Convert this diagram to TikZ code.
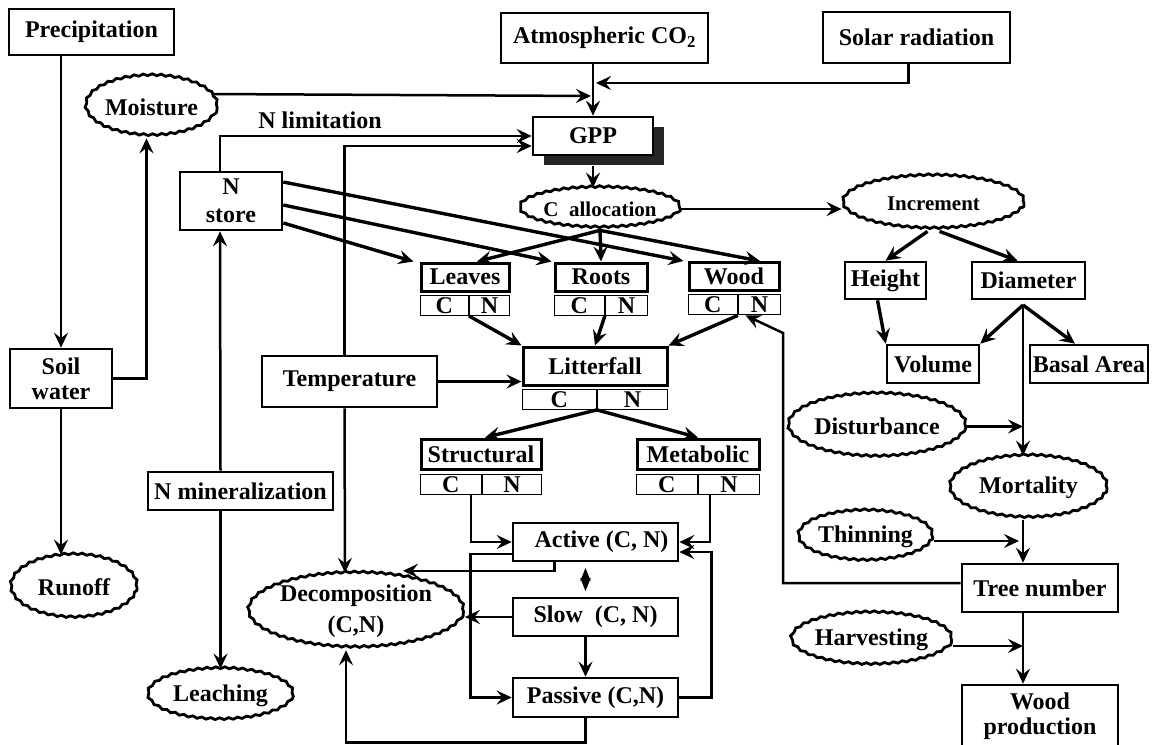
\documentclass[tikz,border=0pt]{standalone}
\usepackage{fontspec}
\setmainfont{Liberation Serif}
\usetikzlibrary{arrows.meta, positioning, shapes.geometric, shadows, decorations.pathmorphing}

\begin{document}
\begin{tikzpicture}[x=1pt, y=-1pt, >={Stealth[length=15pt, width=14pt, inset=5.5pt]},
    line width=2.5pt, font=\fontsize{24}{25}\selectfont\bfseries,
    box/.style={draw, rectangle, line width=2.6pt, inner sep=0pt, align=center},
    pool/.style={draw, rectangle, line width=3pt, inner sep=0pt, minimum height=28pt},
    cell/.style={draw, rectangle, line width=1.4pt, inner sep=0pt, minimum height=20pt},
    wavy/.style={draw, ellipse, line width=2.8pt, inner sep=0pt, align=center,
        decorate, decoration={snake, amplitude=0.9pt, segment length=9pt}},
    small/.style={font=\fontsize{21}{23}\selectfont\bfseries},
    flow/.style={->, line width=3.4pt}]
    \useasboundingbox (0,0) rectangle (1153,744);

    % drivers
    \node[box, minimum width=165pt, minimum height=46pt] (precip) at (91.5,32) {Precipitation};
    \node[box, minimum width=207pt, minimum height=50pt] (co2) at (604.5,38) {Atmospheric CO\textsubscript{2}};
    \node[box, minimum width=187pt, minimum height=51pt] (solar) at (916.5,37.5) {Solar radiation};
    \node[wavy, minimum width=117pt, minimum height=60pt] (moisture) at (151.5,107) {Moisture};
    \node[box, fill=white, minimum width=120pt, minimum height=38pt,
        drop shadow={shadow xshift=11pt, shadow yshift=-10pt, fill=black!85, opacity=1}] (gpp) at (593,136) {GPP};
    \node (nlim) at (320,120) {N limitation};
    \node[box, minimum width=102pt, minimum height=58pt] (nstore) at (231,201) {N\\[3pt]store};
    \node[wavy, small, minimum width=154pt, minimum height=40pt] (calloc) at (600,209) {C\ \ allocation};
    \node[wavy, small, minimum width=181pt, minimum height=53pt] (increment) at (933.5,203.5) {Increment};

    % plant pools
    \node[pool, minimum width=88pt] (leaves) at (465,277) {Leaves};
    \node[cell, minimum width=48pt, anchor=north west] (leavesC) at ([yshift=-2pt]leaves.south west) {C};
    \node[cell, minimum width=40pt, right=0pt of leavesC] (leavesN) {N};
    \node[pool, minimum width=92pt] (roots) at (601,277) {Roots};
    \node[cell, minimum width=50pt, anchor=north west] (rootsC) at ([yshift=-2pt]roots.south west) {C};
    \node[cell, minimum width=42pt, right=0pt of rootsC] (rootsN) {N};
    \node[pool, minimum width=90pt] (wood) at (734,276.5) {Wood};
    \node[cell, minimum width=49pt, anchor=north west] (woodC) at ([yshift=-2pt]wood.south west) {C};
    \node[cell, minimum width=42pt, right=0pt of woodC] (woodN) {N};

    % growth
    \node[box, minimum width=81pt, minimum height=37pt] (height) at (885.5,280.5) {Height};
    \node[box, minimum width=113pt, minimum height=37pt] (diameter) at (1028.5,280.5) {Diameter};
    \node[box, minimum width=92pt, minimum height=38pt] (volume) at (933,364) {Volume};
    \node[box, minimum width=118pt, minimum height=38pt] (basal) at (1089,364) {Basal Area};
    \node[wavy, minimum width=148pt, minimum height=63pt] (disturbance) at (877,426.5) {Disturbance};
    \node[wavy, minimum width=157pt, minimum height=62pt] (mortality) at (1028.5,488) {Mortality};
    \node[wavy, minimum width=125pt, minimum height=50pt] (thinning) at (865.5,537) {Thinning};
    \node[box, minimum width=156pt, minimum height=48pt] (treenum) at (1040,588) {Tree number};
    \node[wavy, minimum width=137pt, minimum height=52pt] (harvest) at (871.5,640) {Harvesting};
    \node[box, minimum width=156pt, minimum height=62pt] (woodprod) at (1040,716) {Wood\\production};

    % soil side
    \node[box, minimum width=102pt, minimum height=59pt] (soilwater) at (61,378.5) {Soil\\water};
    \node[wavy, minimum width=126pt, minimum height=63pt] (runoff) at (74,587.5) {Runoff};
    \node[box, minimum width=175pt, minimum height=51pt] (temperature) at (349.5,381.5) {Temperature};
    \node[box, minimum width=185pt, minimum height=38pt] (nmin) at (240.5,491) {N mineralization};
    \node[wavy, minimum width=145pt, minimum height=51pt] (leaching) at (220.5,695.5) {Leaching};
    \node[wavy, minimum width=186pt, minimum height=71pt] (decomp) at (356,611.5) {Decomposition\\[6pt](C,N)};

    % litter and soil pools
    \node[pool, minimum width=144pt, minimum height=38pt] (litter) at (595,366) {Litterfall};
    \node[cell, minimum width=74pt, anchor=north west] (litterC) at ([yshift=-2pt]litter.south west) {C};
    \node[cell, minimum width=70pt, right=0pt of litterC] (litterN) {N};
    \node[pool, minimum width=120pt, minimum height=30pt] (structural) at (481,454) {Structural};
    \node[cell, minimum width=61pt, anchor=north west] (structuralC) at ([yshift=-3pt]structural.south west) {C};
    \node[cell, minimum width=59pt, right=0pt of structuralC] (structuralN) {N};
    \node[pool, minimum width=122pt, minimum height=30pt] (metabolic) at (698,454) {Metabolic};
    \node[cell, minimum width=61pt, anchor=north west] (metabolicC) at ([yshift=-3pt]metabolic.south west) {C};
    \node[cell, minimum width=61pt, right=0pt of metabolicC] (metabolicN) {N};
    \node[box, minimum width=165pt, minimum height=38pt] (active) at (595.5,542) {\hspace{12pt}Active (C, N)};
    \node[box, minimum width=165pt, minimum height=38pt] (slow) at (595.5,617) {Slow\ \ (C, N)};
    \node[box, minimum width=165pt, minimum height=39pt] (passive) at (595.5,697.5) {Passive (C,N)};

    \coordinate (moistjoin) at (591,96);
    \coordinate (solarjoin) at (596,83);
    \coordinate (trunk) at (1023,305);
    \coordinate (wbend) at (783,333);

    % water
    \draw[->] (precip.south -| soilwater.north) -- (soilwater.north);
    \draw[->] (soilwater.east) -| ([xshift=-5pt]moisture.south);
    \draw[->] (soilwater.south) -- (soilwater.south |- runoff.north);
    \draw[->] (moisture.12) -- (moistjoin);

    % into GPP
    \draw[->] (co2.south -| gpp.north) -- (gpp.north);
    \draw[->] ([xshift=-8pt]solar.south) |- (solarjoin);
    \draw[->] ([xshift=-11pt]nstore.north) |- (gpp.west);
    \draw[->] ([xshift=-5pt]temperature.north) |- ([yshift=-10pt]gpp.west);
    \draw[->] ([yshift=-10pt]gpp.south) -- (gpp.south |- calloc.north);

    % allocation
    \draw[flow] ([yshift=-22pt]nstore.east) -- ([xshift=-6pt]leaves.north west);
    \draw[flow] ([yshift=-4pt]nstore.east) -- ([xshift=-2pt]roots.north west);
    \draw[flow] ([yshift=19pt]nstore.east) -- ([xshift=-4pt]wood.north west);
    \draw[flow] (calloc.south) -- ([xshift=12pt]leaves.north);
    \draw[flow] (calloc.south) -- (roots.north);
    \draw[flow] (calloc.south) -- ([xshift=26pt]wood.north);
    \draw[->] (calloc.east) -- (calloc.east -| increment.west);

    % growth
    \draw[flow] ([xshift=-6pt]increment.south) -- (height.north);
    \draw[flow] ([xshift=6pt]increment.south) -- ([xshift=-11pt]diameter.north);
    \draw[flow] ([xshift=-8pt]height.south) -- (volume.north west);
    \draw[flow] (trunk) -- (volume.north east);
    \draw[flow] (trunk) -- ([xshift=-14pt]basal.north);
    \draw[->] (trunk) -- (trunk |- mortality.north);
    \draw[->] (disturbance.east) -- (disturbance.east -| trunk);
    \draw[->] (trunk |- mortality.south) -- (trunk |- treenum.north);
    \draw[->] ([yshift=-4pt]thinning.east) -- ([yshift=-4pt, xshift=-4pt]thinning.east -| trunk);
    \draw[->] (trunk |- treenum.south) -- (trunk |- woodprod.north);
    \draw[->] ([yshift=-6pt]harvest.east) -- ([yshift=-6pt]harvest.east -| trunk);
    \draw[->] ([yshift=5pt]treenum.west) -| (wbend) -- ([xshift=-14pt]woodN.south);

    % litter
    \draw[flow] (leavesC.south east) -- (litter.north west);
    \draw[flow] (rootsC.south east) -- (litter.north);
    \draw[flow] (woodC.south east) -- (litter.north east);
    \draw[->] (temperature.east) -- (temperature.east -| litter.west);
    \draw[flow] (litterC.south east) -- ([xshift=4pt]structural.north);
    \draw[flow] (litterC.south east) -- (metabolic.north);

    % soil organic matter
    \draw[->] ([xshift=-11pt]structuralC.south east) |- (active.west);
    \draw[->] ([xshift=12pt]metabolicN.south west) |- (active.east);
    \draw[->] ([yshift=-12pt]active.west) -- ++(-41,0) |- (passive.west);
    \draw[->] (passive.east) -- ++(32,0) |- ([yshift=-10pt]active.east);
    \draw[{Stealth[length=13pt, width=10pt, inset=2pt]}-{Stealth[length=13pt, width=10pt, inset=2pt]},
        shorten <=5.5pt, shorten >=5.5pt] ([xshift=-10pt]active.south) -- ([xshift=-10pt]slow.north);
    \draw[->] ([xshift=-10pt]slow.south) -- ([xshift=-10pt]passive.north);
    \draw[->] ([xshift=-41pt]active.south) |- ([xshift=47pt, yshift=2pt]decomp.north);
    \draw[->] (slow.west) -- (slow.west -| decomp.east);
    \draw[->] ([xshift=-10pt]passive.south) -- ++(0,24) -| ([xshift=-10pt]decomp.south);
    \draw[->] ([xshift=-5pt]temperature.south) -- ([xshift=-11pt]decomp.north);

    % nitrogen
    \draw[->] ([xshift=-20pt]nmin.north) -- ([xshift=-11pt]nstore.south);
    \draw[->] ([xshift=-20pt]nmin.south) -- (leaching.north);
\end{tikzpicture}
\end{document}
